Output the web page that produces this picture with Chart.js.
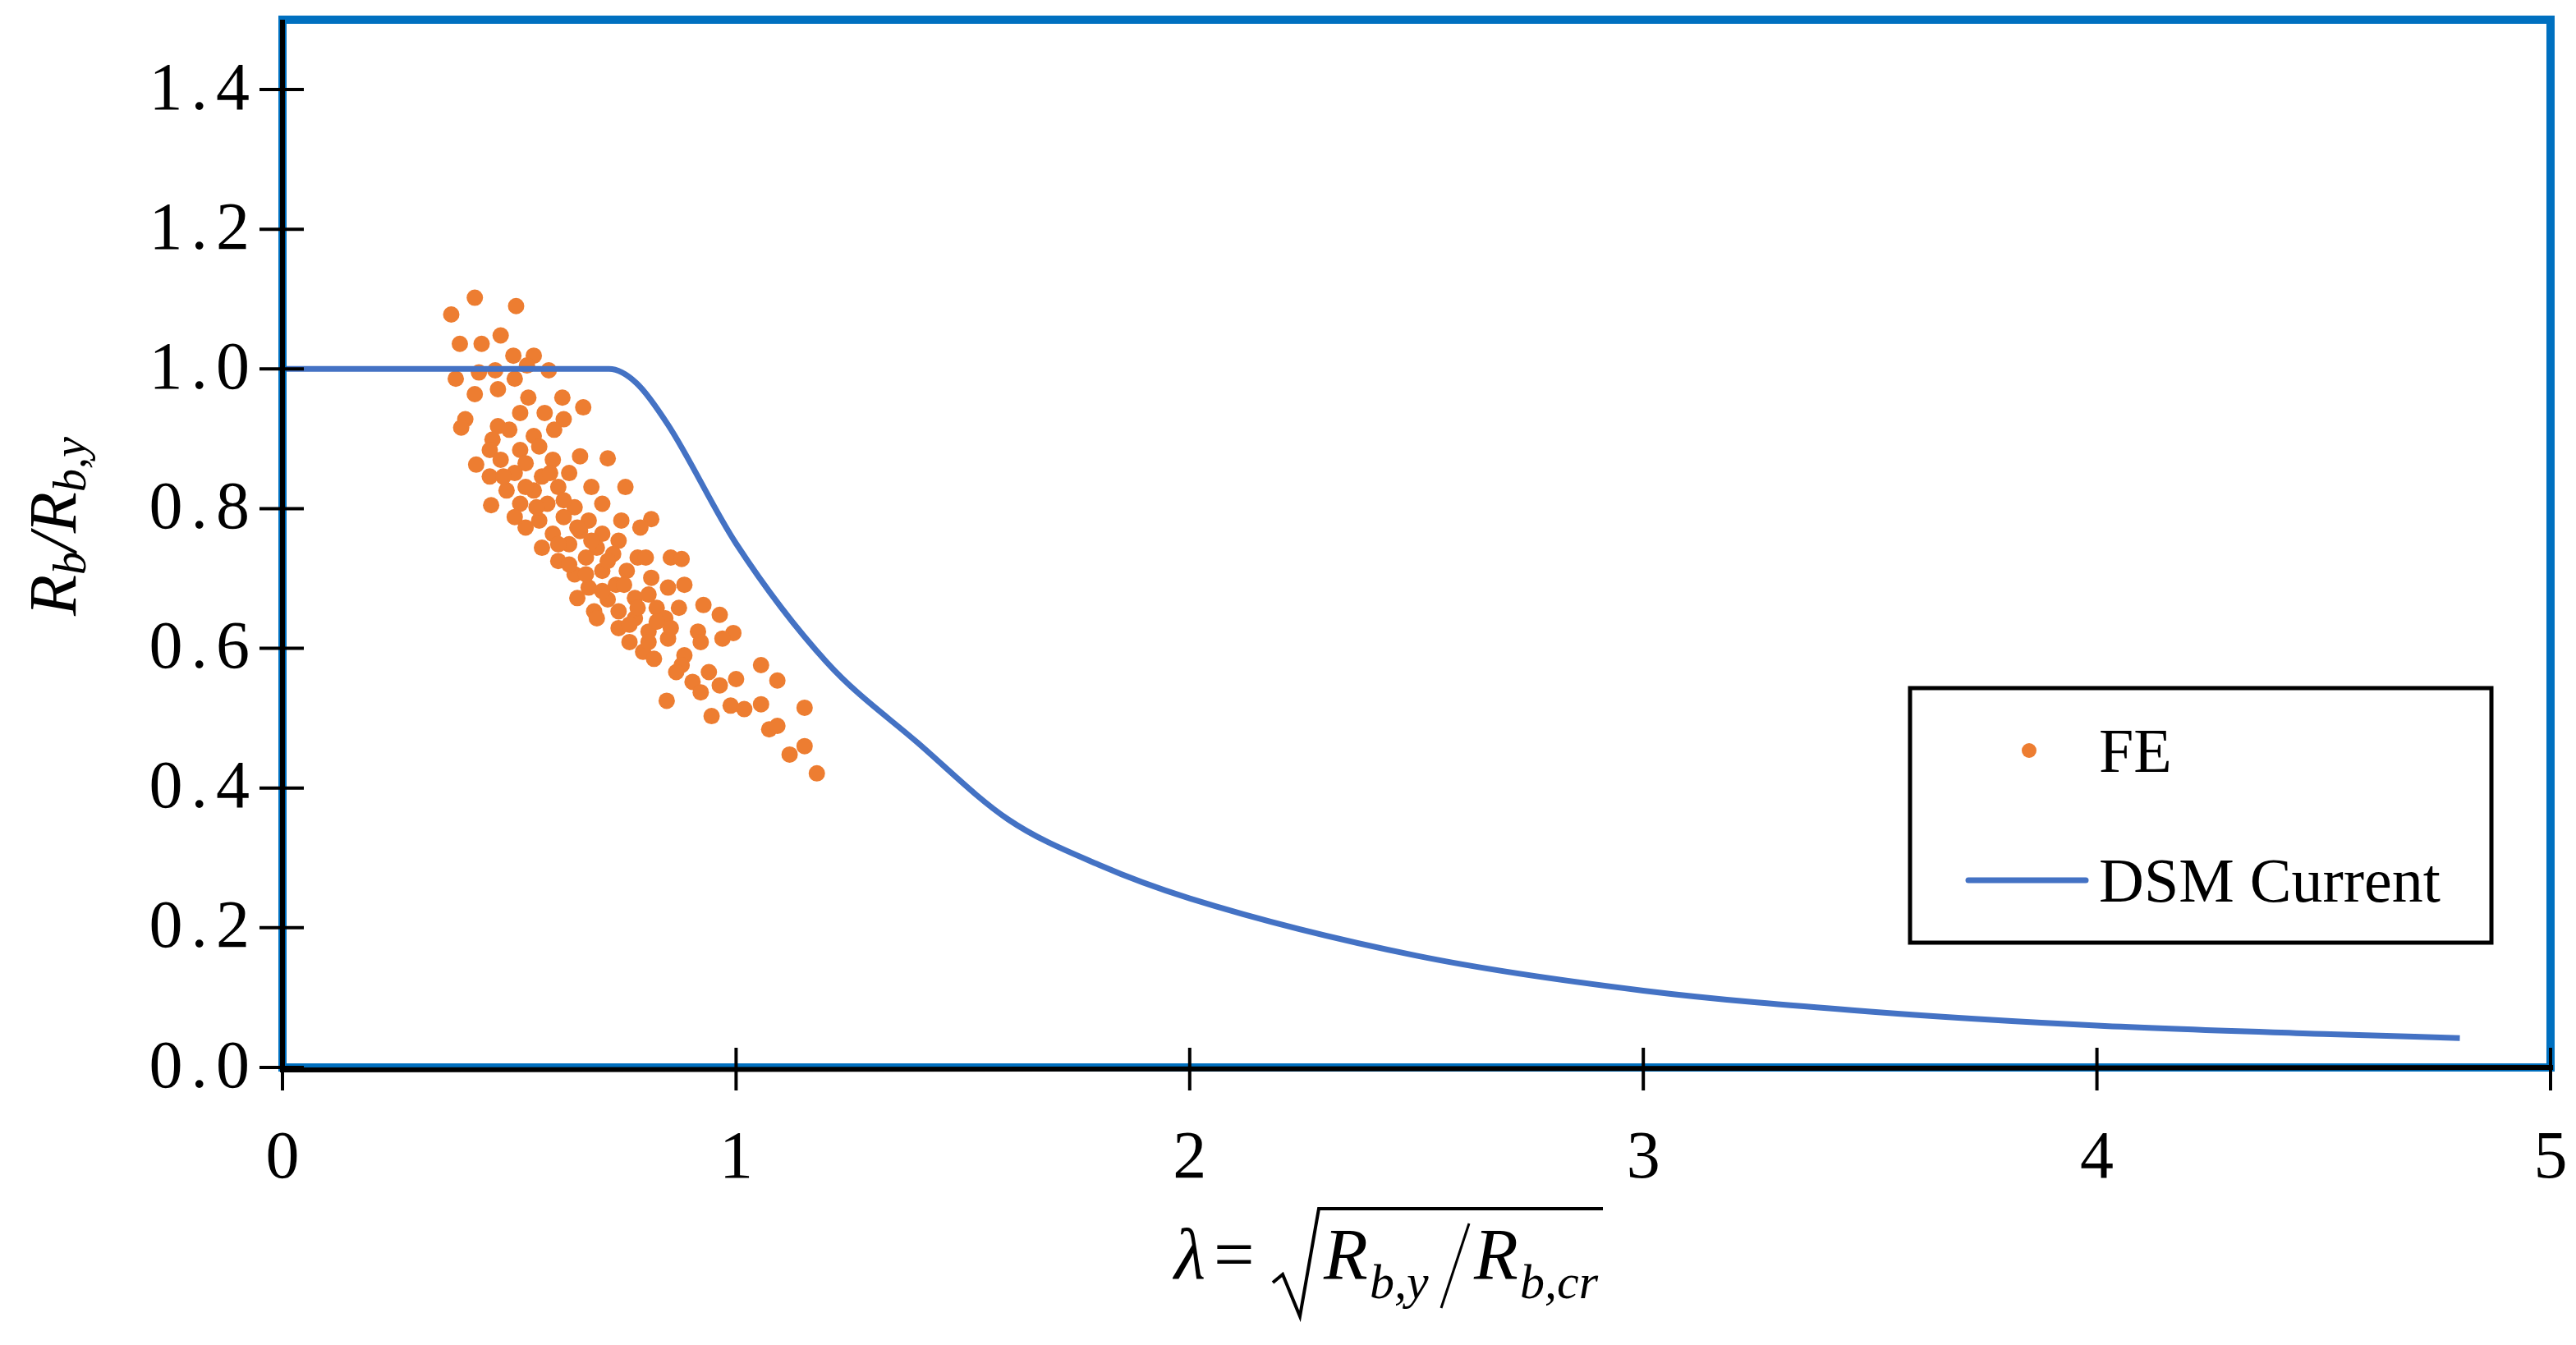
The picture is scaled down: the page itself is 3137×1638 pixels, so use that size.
<!DOCTYPE html>
<html><head><meta charset="utf-8">
<script src="https://cdn.jsdelivr.net/npm/chart.js@4"></script>
<style>html,body{margin:0;padding:0;background:#fff}#wrap{width:3137px;height:1638px}</style>
</head><body><div id="wrap"><canvas id="c" width="3137" height="1638"></canvas></div>
<script>
const feX = [0.372,0.424,0.515,0.481,0.391,0.439,0.509,0.554,0.382,0.433,0.469,0.512,0.539,0.587,0.424,0.475,0.542,0.617,0.663,0.403,0.394,0.524,0.578,0.620,0.599,0.475,0.463,0.500,0.554,0.457,0.524,0.566,0.427,0.481,0.536,0.596,0.656,0.717,0.457,0.512,0.572,0.632,0.494,0.554,0.608,0.681,0.756,0.460,0.524,0.584,0.644,0.705,0.512,0.566,0.620,0.675,0.747,0.813,0.789,0.536,0.596,0.656,0.705,0.572,0.632,0.693,0.741,0.608,0.669,0.729,0.783,0.801,0.856,0.880,0.644,0.705,0.759,0.813,0.675,0.735,0.850,0.886,0.650,0.717,0.777,0.807,0.687,0.741,0.825,0.874,0.928,0.964,0.693,0.777,0.844,0.741,0.807,0.916,0.994,0.970,0.765,0.850,0.922,0.795,0.819,0.886,0.880,0.868,0.940,1.000,1.055,1.091,0.904,0.922,0.964,0.847,0.946,0.988,1.018,1.055,1.151,1.073,1.091,1.118,1.151,1.178,0.487,0.536,0.590,0.560,0.620,0.650,0.681,0.608,0.717,0.753,0.783,0.705,0.669,0.632,0.825,0.856,0.807,0.765];
const feY = [1.078,1.102,1.090,1.048,1.036,1.036,1.019,1.019,0.986,0.995,0.998,0.986,1.005,0.998,0.964,0.971,0.959,0.959,0.945,0.928,0.916,0.937,0.937,0.928,0.913,0.918,0.899,0.913,0.904,0.884,0.884,0.889,0.863,0.870,0.865,0.870,0.875,0.872,0.846,0.851,0.846,0.851,0.826,0.826,0.831,0.831,0.831,0.805,0.807,0.807,0.802,0.807,0.788,0.783,0.788,0.783,0.783,0.785,0.773,0.773,0.764,0.768,0.764,0.744,0.749,0.744,0.754,0.725,0.730,0.735,0.730,0.730,0.730,0.728,0.706,0.711,0.711,0.701,0.687,0.691,0.687,0.691,0.672,0.670,0.672,0.677,0.653,0.653,0.658,0.658,0.662,0.648,0.643,0.643,0.643,0.629,0.624,0.624,0.622,0.614,0.609,0.614,0.609,0.595,0.585,0.590,0.576,0.566,0.566,0.556,0.576,0.554,0.552,0.537,0.547,0.525,0.503,0.518,0.513,0.520,0.515,0.484,0.489,0.448,0.460,0.421,0.846,0.831,0.851,0.802,0.812,0.773,0.754,0.749,0.725,0.691,0.658,0.682,0.706,0.720,0.638,0.629,0.609,0.634];
const dsmX = [0,0.72,0.78,0.85,1.0,1.2,1.4,1.6,1.8,2.0,2.5,3.0,3.5,4.0,4.5,4.8];
const dsmY = [1,1,0.98,0.92,0.75,0.58,0.465,0.355,0.29,0.242,0.16,0.11,0.08,0.06,0.048,0.042];
const xTicks = [0,1,2,3,4,5];
const yTicks = [0,0.2,0.4,0.6,0.8,1.0,1.2,1.4];

const SERIF = '"Liberation Serif", "Times New Roman", serif';
const deco = {
  id:'deco',
  afterDraw(ch){
    const c=ch.ctx, a=ch.chartArea, xs=ch.scales.x, ys=ch.scales.y;
    c.save();
    c.strokeStyle='#0070C0'; c.lineWidth=10;
    c.strokeRect(a.left, a.top, a.right-a.left, a.bottom-a.top);
    c.strokeStyle='#000'; c.lineWidth=6;
    c.beginPath(); c.moveTo(a.left,a.top); c.lineTo(a.left,a.bottom+3); c.lineTo(a.right+3,a.bottom); c.stroke();
    c.lineWidth=4;
    c.fillStyle='#000'; c.font='82px '+SERIF;
    try{c.letterSpacing='10px';}catch(e){}
    c.textAlign='right'; c.textBaseline='middle';
    yTicks.forEach(v=>{const y=ys.getPixelForValue(v); c.beginPath(); c.moveTo(a.left-28,y); c.lineTo(a.left+26,y); c.stroke(); c.fillText(v.toFixed(1),a.left-30,y+2);});
    try{c.letterSpacing='0px';}catch(e){}
    c.textAlign='center'; c.textBaseline='alphabetic';
    xTicks.forEach(v=>{const x=xs.getPixelForValue(v); c.beginPath(); c.moveTo(x,a.bottom-24); c.lineTo(x,a.bottom+28); c.stroke(); c.fillText(String(v),x,a.bottom+134);});
    c.textAlign='left';
    // legend
    c.lineWidth=5; c.strokeRect(2326,838,708,310);
    c.fillStyle='#ED7D31'; c.beginPath(); c.arc(2471,914,9,0,Math.PI*2); c.fill();
    c.strokeStyle='#4472C4'; c.lineWidth=7; c.lineCap='round';
    c.beginPath(); c.moveTo(2397,1072); c.lineTo(2540,1072); c.stroke();
    c.fillStyle='#000'; c.font='76px '+SERIF;
    c.fillText('FE',2556,940); c.fillText('DSM Current',2556,1098);
    // y title
    c.save(); c.translate(92,600); c.rotate(-Math.PI/2);
    c.font='italic 82px '+SERIF;
    let x0=-150; c.fillText('R',x0,0); x0+=c.measureText('R').width;
    c.font='italic 56px '+SERIF; c.fillText('b',x0,12); x0+=c.measureText('b').width;
    c.font='italic 82px '+SERIF; c.fillText('/',x0,0); x0+=c.measureText('/').width;
    c.fillText('R',x0,0); x0+=c.measureText('R').width;
    c.font='italic 56px '+SERIF; c.fillText('b,y',x0,12);
    c.restore();
    // x title
    c.font='italic 88px '+SERIF; c.fillText('λ',1430,1557);
    c.font='88px '+SERIF; c.fillText('=',1478,1557);
    c.strokeStyle='#000'; c.lineWidth=4; c.lineCap='butt';
    c.beginPath(); c.moveTo(1550,1562); c.lineTo(1562,1552); c.lineTo(1583,1603); c.lineTo(1606,1472); c.lineTo(1952,1472); c.stroke();
    c.font='italic 88px '+SERIF; c.fillText('R',1612,1557);
    c.font='italic 60px '+SERIF; c.fillText('b,y',1668,1581);
    c.lineWidth=3; c.beginPath(); c.moveTo(1789,1490); c.lineTo(1755,1593); c.stroke();
    c.font='italic 88px '+SERIF; c.fillText('R',1795,1557);
    c.font='italic 60px '+SERIF; c.fillText('b,cr',1851,1581);
    c.restore();
  }
};

new Chart(document.getElementById('c'),{
  type:'scatter',
  data:{datasets:[
    {label:'FE',data:feX.map((x,i)=>({x,y:feY[i]})),backgroundColor:'#ED7D31',borderColor:'#ED7D31',pointRadius:10,pointBorderWidth:0,order:2},
    {label:'DSM Current',type:'line',data:dsmX.map((x,i)=>({x,y:dsmY[i]})),borderColor:'#4472C4',borderWidth:7,pointRadius:0,cubicInterpolationMode:'monotone',fill:false,order:1}
  ]},
  options:{
    responsive:false,animation:false,devicePixelRatio:1,
    layout:{padding:{top:24,right:31,left:0,bottom:0}},
    plugins:{legend:{display:false},tooltip:{enabled:false}},
    scales:{
      x:{type:'linear',min:0,max:5,
        afterBuildTicks:s=>{s.ticks=xTicks.map(v=>({value:v}));},
        afterFit:s=>{s.height=338;},
        grid:{display:false},border:{display:false},ticks:{display:false}},
      y:{type:'linear',min:0,max:1.5,
        afterBuildTicks:s=>{s.ticks=yTicks.map(v=>({value:v}));},
        afterFit:s=>{s.width=344;},
        grid:{display:false},border:{display:false},ticks:{display:false}}
    }
  },
  plugins:[deco]
});
</script></body></html>
